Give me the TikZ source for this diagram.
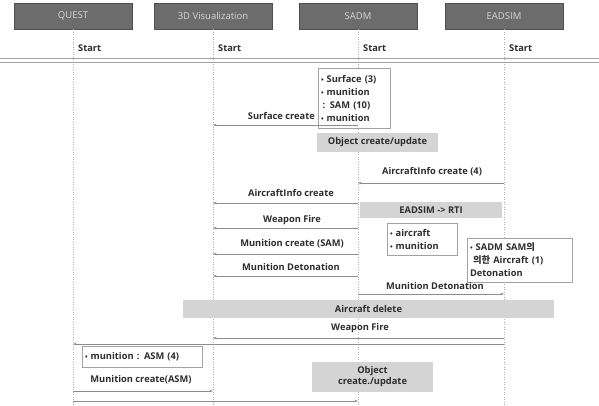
\documentclass[tikz,border=0pt]{standalone}
\usepackage{fontspec}
\setmainfont{Open Sans}
\newfontfamily\krfont{Noto Sans CJK KR}
\usetikzlibrary{arrows.meta}
\definecolor{headgray}{RGB}{108,108,108}
\definecolor{headline}{RGB}{80,80,80}
\definecolor{headtext}{RGB}{214,214,214}
\definecolor{bargray}{RGB}{212,212,212}
\definecolor{msggray}{RGB}{140,140,140}
\definecolor{inkgray}{RGB}{45,45,45}
\newcommand{\bul}{{\fontsize{7}{7}\selectfont\textbullet}\ }
\tikzset{
  header/.style={
    draw=headline,
    fill=headgray,
    text=headtext,
    line width=0.6pt,
    minimum width=118pt,
    minimum height=26pt,
    inner sep=0pt,
    font=\fontsize{9.5}{11}\selectfont
  },
  lifeline/.style={draw=msggray!70, dotted, line width=0.5pt},
  rule/.style={draw=msggray!80, line width=0.6pt},
  msg/.style={
    draw=msggray,
    line width=0.6pt,
    -{Stealth[length=3.5pt,width=2.5pt]}
  },
  msgtext/.style={
    text=inkgray,
    inner sep=0pt,
    font=\fontsize{9.3}{11}\selectfont\bfseries
  },
  bar/.style={
    fill=bargray,
    text=inkgray,
    inner sep=0pt,
    align=center,
    font=\fontsize{9.3}{11}\selectfont\bfseries
  },
  note/.style={
    draw=msggray!80,
    fill=white,
    line width=0.5pt,
    text=inkgray,
    align=left,
    inner xsep=3pt,
    inner ysep=0pt,
    font=\fontsize{9.3}{13}\selectfont\bfseries
  }
}

\begin{document}
\begin{tikzpicture}[x=1pt,y=-1pt]
  \useasboundingbox (0,0) rectangle (599,406);
  \fill[white] (0,0) rectangle (599,406);

  % participants
  \node[header] (quest)  at (73,16)  {QUEST};
  \node[header] (vis)    at (213,16) {3D Visualization};
  \node[header] (sadm)   at (358,16) {SADM};
  \node[header] (eadsim) at (504,16) {EADSIM};

  \foreach \n in {quest,vis,sadm,eadsim} {
    \coordinate (\n-end) at (\n.south |- 0,406);
    \draw[lifeline] (\n.south) -- (\n-end);
    \node[msgtext, anchor=west] (\n-start) at ([xshift=5pt]\n.south |- 0,48) {Start};
  }
  \coordinate (rule-l) at (0,58);
  \coordinate (rule-r) at (599,58);
  \draw[rule] (rule-l) -- (rule-r);
  \draw[rule] ([yshift=-4pt]rule-l) -- ([yshift=-4pt]rule-r);

  % boxes
  \node[note, minimum width=72pt, minimum height=60pt, text width=66pt] (surf-note) at (354,98)
    {\bul Surface (3)\\ \bul munition\\ \,: SAM (10)\\ \bul munition};
  \node[bar, minimum width=121pt, minimum height=19pt] (obj1) at (377.5,142.5) {Object create/update};
  \node[bar, minimum width=142pt, minimum height=16pt] (rti) at (431,210) {EADSIM -> RTI};
  \node[note, minimum width=70pt, minimum height=32pt, text width=64pt] (air-note) at (422,239)
    {\bul aircraft\\ \bul munition};
  \node[note, minimum width=105pt, minimum height=44pt, text width=99pt] (det-note) at (519.5,260)
    {\bul SADM SAM{\krfont 의}\\ \ {\krfont 의한} Aircraft (1)\\ Detonation};
  \node[bar, minimum width=371pt, minimum height=18pt] (delete) at (368.5,309) {Aircraft delete};
  \node[note, minimum width=120pt, minimum height=21pt, text width=114pt] (asm-note) at (142,356.5)
    {\bul munition : ASM (4)};
  \node[bar, minimum width=121pt, minimum height=30pt] (obj2) at (372.5,377) {Object\\ create./update};

  % messages
  \foreach \from/\to/\y in {sadm/vis/125, eadsim/sadm/183, sadm/vis/203, sadm/vis/228,
      sadm/vis/254, sadm/vis/276, sadm/eadsim/294, eadsim/vis/338, eadsim/quest/344,
      quest/vis/391, quest/sadm/401}
    \draw[msg] (\from |- 0,\y) -- (\to |- 0,\y);

  \node[msgtext, anchor=east] (m-surf) at (315,116) {Surface create};
  \node[msgtext] (m-info4) at (432,172) {AircraftInfo create (4)};
  \node[msgtext] (m-info)  at (291,193) {AircraftInfo create};
  \node[msgtext] (m-fire1) at (292,220) {Weapon Fire};
  \node[msgtext] (m-sam)   at (292,244) {Munition create (SAM)};
  \node[msgtext] (m-det1)  at (291,267) {Munition Detonation};
  \node[msgtext] (m-det2)  at (435,286) {Munition Detonation};
  \node[msgtext] (m-fire2) at (360,328) {Weapon Fire};
  \node[msgtext] (m-asm)   at (141,380) {Munition create(ASM)};
\end{tikzpicture}
\end{document}
